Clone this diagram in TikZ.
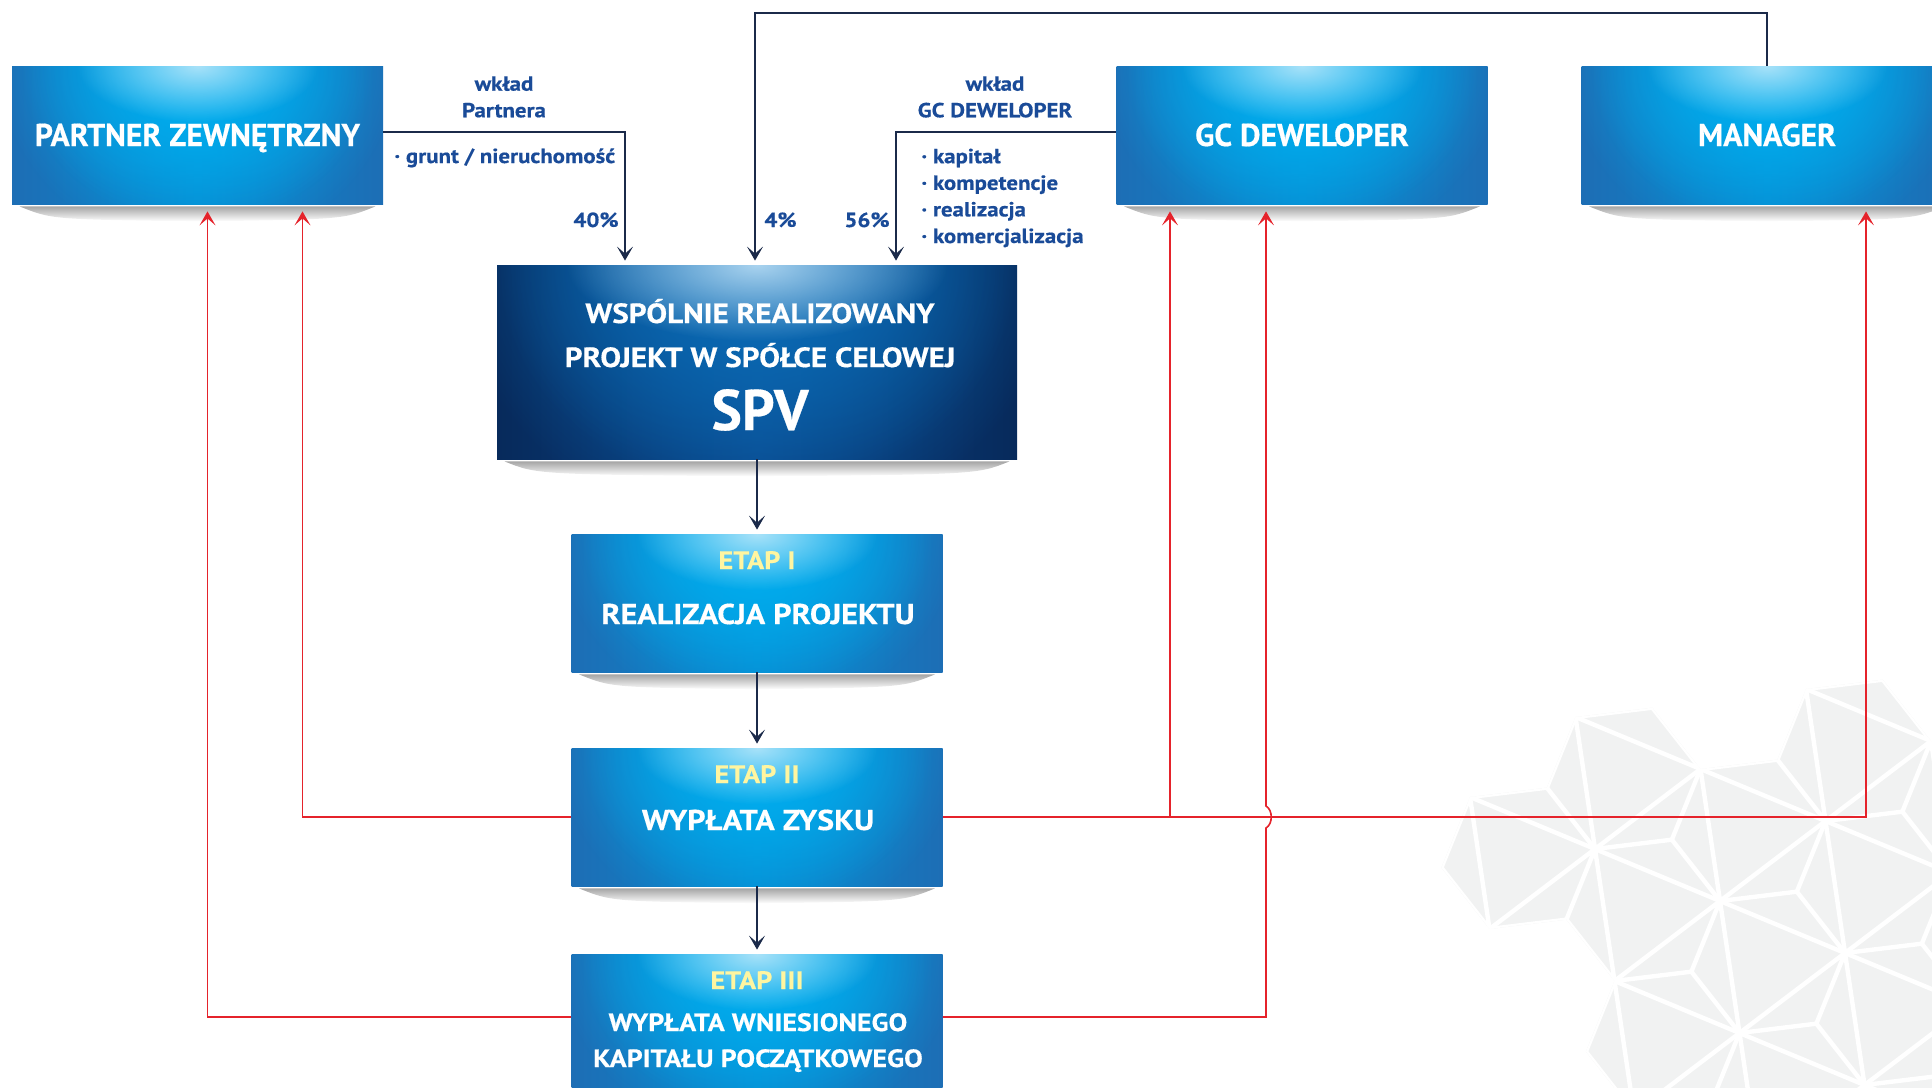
\documentclass[tikz,border=0pt]{standalone}
\usepackage{fontspec}
\setmainfont{PT Sans}[BoldFeatures={FakeBold=0.5}]
\newfontfamily\widefont{PT Sans}[FakeStretch=1.12,BoldFeatures={FakeBold=0.5}]
\usetikzlibrary{calc,arrows.meta,fadings}
\definecolor{boxedge}{HTML}{1D6EB5}
\definecolor{boxmid}{HTML}{0A86CC}
\definecolor{boxglow}{HTML}{00AEEF}
\definecolor{boxlight}{HTML}{A8E2F9}
\definecolor{spvedge}{HTML}{072A5B}
\definecolor{spvmid}{HTML}{0A4488}
\definecolor{spvglow}{HTML}{0A6AB4}
\definecolor{spvlight}{HTML}{A9D3EF}
\definecolor{navy}{HTML}{1B2A4A}
\definecolor{labelblue}{HTML}{1A4B98}
\definecolor{redline}{HTML}{E5232B}
\definecolor{etapyellow}{HTML}{FFF5A0}
\definecolor{flake}{HTML}{F1F2F2}
\tikzfading[name=glow,inner color=transparent!0,outer color=transparent!100]
\tikzstyle{every node}=[inner sep=0pt,font=\bfseries]
\tikzstyle{box} = [rectangle,minimum width=185.5pt,minimum height=69pt,left color=boxedge,right color=boxedge,middle color=boxmid,text=white,font=\fontsize{15.8pt}{18pt}\selectfont\bfseries,text height=11pt,text depth=0pt,
  path picture={\fill[boxglow,path fading=glow] (path picture bounding box.north) ellipse [x radius=100pt,y radius=92pt];
    \fill[boxglow,path fading=glow] (path picture bounding box.north) ellipse [x radius=88pt,y radius=80pt];
    \fill[boxlight,path fading=glow] (path picture bounding box.north) ellipse [x radius=60pt,y radius=28pt];}]
\tikzstyle{spvbox} = [rectangle,minimum width=260pt,minimum height=97pt,left color=spvedge,right color=spvedge,middle color=spvmid,
  path picture={\fill[spvglow,path fading=glow] (path picture bounding box.north) ellipse [x radius=150pt,y radius=135pt];
    \fill[spvglow,path fading=glow] (path picture bounding box.north) ellipse [x radius=130pt,y radius=115pt];
    \fill[spvlight,path fading=glow] (path picture bounding box.north) ellipse [x radius=95pt,y radius=38pt];}]
\tikzstyle{lift} = [top color=black!35,bottom color=white]
\tikzstyle{arrow} = [draw=navy,line width=0.9pt,-{Stealth[length=7pt,width=8pt,inset=3.5pt]}]
\tikzstyle{redarrow} = [draw=redline,line width=0.8pt,-{Stealth[length=7pt,width=8pt,inset=3.5pt]}]
\tikzstyle{labeltext} = [text=labelblue,font=\widefont\fontsize{10.2pt}{13.3pt}\selectfont\bfseries,align=center]
\tikzstyle{boxtitle} = [text=white,font=\widefont\fontsize{14.3pt}{18pt}\selectfont\bfseries,anchor=base]
\tikzstyle{stagetext} = [text=etapyellow,font=\widefont\fontsize{12.6pt}{15pt}\selectfont\bfseries,anchor=base]
\tikzstyle{flakeline} = [white,line width=2.2pt]
\newcommand{\flakeshape}{(0,2) -- (-1/3,5/3) -- (0,1) -- (-1/3,2/3) -- (-1,1) -- (-4/3,2/3) -- (-1,0) -- (-1/3,-1/3) -- (0,-1) -- (2/3,-4/3) -- (1,-1) -- (5/3,-4/3) -- (2,-2) -- (8/3,-7/3) -- (3,-2) -- (6,-2) -- (6,5) -- (0,5) -- cycle}
\begin{document}
\begin{tikzpicture}[x=0.5pt,y=-0.5pt]
\useasboundingbox (0,0) rectangle (1932,1087);
\clip (0,0) rectangle (1932,1087);

% snowflake in the background
\begin{scope}[shift={(1595,849)},x={(62.5pt,-26pt)},y={(9.75pt,-66pt)}]
\fill[flake] \flakeshape;
\clip \flakeshape;
\foreach \k in {-9,...,9}
  \draw[flakeline] (\k,-9) -- (\k,9) (-9,\k) -- (9,\k) (\k-9,9) -- (\k+9,-9);
\foreach \i in {-4,...,6}
  \foreach \j in {-4,...,5}
    \draw[flakeline] (\i,\j) -- (\i+2/3,\j-1/3) -- (\i+1,\j) (\i+2/3,\j-1/3) -- (\i+1,\j-1);
\end{scope}

% boxes
\node[box] (partner) at (197.5,135) {PARTNER ZEWNĘTRZNY};
\node[box] (gc) at (1302,135) {GC DEWELOPER};
\node[box] (manager) at (1767,135) {MANAGER};
\node[spvbox] (spv) at (757,362) {};
\node[box] (etap1) at (757,603) {};
\node[box] (etap2) at (757,817) {};
\node[box] (etap3) at (757,1023) {};

% shadows under the boxes
\foreach \n in {partner,gc,manager,spv,etap1,etap2}
  \shade[lift] ([shift={(8,2)}]\n.south west) -- ([shift={(-8,2)}]\n.south east)
    .. controls ([shift={(-40,15)}]\n.south east) .. ([shift={(0,17)}]\n.south)
    .. controls ([shift={(40,15)}]\n.south west) .. cycle;

% texts in the boxes
\node[boxtitle,font=\widefont\fontsize{13.9pt}{16pt}\selectfont\bfseries] (spvline1) at (760,323) {WSPÓLNIE REALIZOWANY};
\node[boxtitle,font=\widefont\fontsize{13.9pt}{16pt}\selectfont\bfseries] (spvline2) at (760,367) {PROJEKT W SPÓŁCE CELOWEJ};
\node[boxtitle,font=\fontsize{28.6pt}{32pt}\selectfont\bfseries] (spvname) at (760,430) {SPV};
\node[stagetext] (etap1title) at (757,569) {ETAP I};
\node[boxtitle] (etap1text) at (758,624) {REALIZACJA PROJEKTU};
\node[stagetext] (etap2title) at (757,783) {ETAP II};
\node[boxtitle] (etap2text) at (758,830) {WYPŁATA ZYSKU};
\node[stagetext] (etap3title) at (757,989) {ETAP III};
\node[boxtitle,font=\widefont\fontsize{12.5pt}{16pt}\selectfont\bfseries] (etap3text1) at (758,1031) {WYPŁATA WNIESIONEGO};
\node[boxtitle,font=\widefont\fontsize{12.5pt}{16pt}\selectfont\bfseries] (etap3text2) at (758,1067) {KAPITAŁU POCZĄTKOWEGO};

% contributions
\node[labeltext] (wkladpartner) at (504,97) {wkład\\Partnera};
\node[labeltext,anchor=base west] (grunt) at (394,163) {· grunt / nieruchomość};
\node[labeltext,anchor=base east] (share40) at (619,227) {40\%};
\node[labeltext,anchor=base west] (share4) at (764,227) {4\%};
\node[labeltext,anchor=base east] (share56) at (890,227) {56\%};
\node[labeltext] (wkladgc) at (995,97) {wkład\\GC DEWELOPER};
\node[labeltext,align=left,anchor=base west] (gcitems) at (921,243) {· kapitał\\· kompetencje\\· realizacja\\· komercjalizacja};

\coordinate (spvin1) at ($(spv.north)+(-132,-4)$);
\coordinate (spvin2) at ($(spv.north)+(-2,-4)$);
\coordinate (spvin3) at ($(spv.north)+(139,-4)$);
\draw[arrow] ($(partner.east)+(0,-3)$) -| (spvin1);
\draw[arrow] (manager.north) |- ($(spvin2)+(0,-248)$) -- (spvin2);
\draw[arrow] ($(gc.west)+(0,-3)$) -| (spvin3);

% stages
\draw[arrow,shorten >=2pt] (spv.south) -- (etap1.north);
\draw[arrow,shorten >=2pt] (etap1.south) -- (etap2.north);
\draw[arrow,shorten >=2pt] (etap2.south) -- (etap3.north);

% payouts
\coordinate (partnerin1) at ($(partner.south)+(10,7)$);
\coordinate (partnerin2) at ($(partner.south)+(105,7)$);
\coordinate (gcin1) at ($(gc.south)+(-132,7)$);
\coordinate (gcin2) at ($(gc.south)+(-36,7)$);
\coordinate (managerin) at ($(manager.south)+(99,7)$);
\draw[redarrow] (etap2.west) -| (partnerin2);
\draw[redarrow] ($(etap3.west)+(0,-6)$) -| (partnerin1);
\draw[redarrow] (etap2.east) -| (gcin1);
\draw[redarrow] (etap2.east) -| (managerin);
\draw[redarrow] ($(etap3.east)+(0,-6)$) -| ($(gcin2 |- etap2.east)+(0,11)$) .. controls +(7,-4) and +(7,4) .. ($(gcin2 |- etap2.east)+(0,-11)$) -- (gcin2);

\end{tikzpicture}
\end{document}
